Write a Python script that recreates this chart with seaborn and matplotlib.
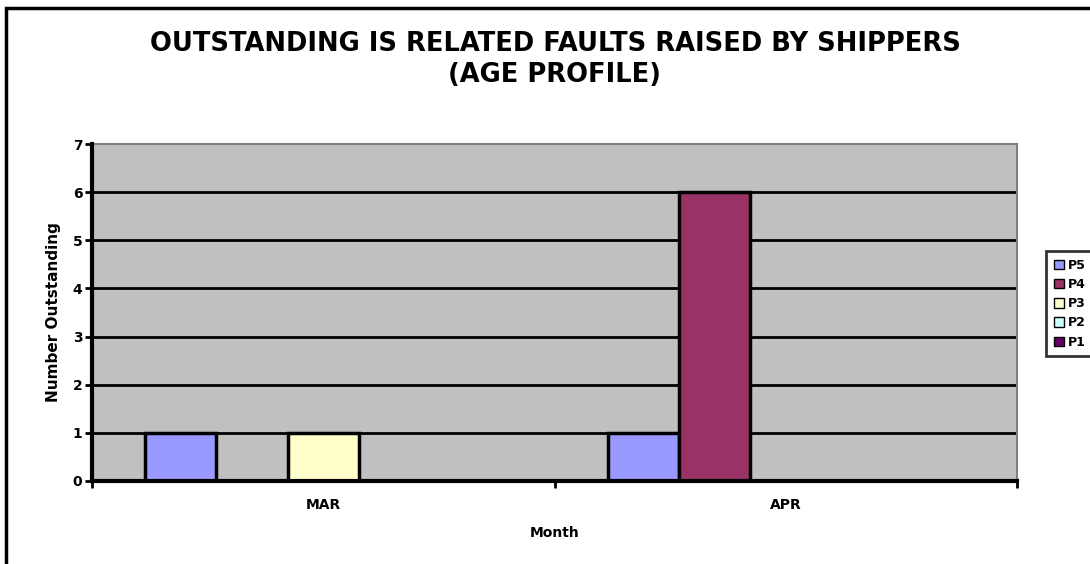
import pandas as pd
import numpy as np
import seaborn as sns
import matplotlib.pyplot as plt
from matplotlib.patches import Patch, Rectangle

# data
months = ["MAR", "APR"]
priorities = ["P5", "P4", "P3", "P2", "P1"]
p5 = [1, 1]
p4 = [0, 6]
p3 = [1, 0]
p2 = [0, 0]
p1 = [0, 0]
colours = ["#9999FF", "#993366", "#FFFFCC", "#CCFFFF", "#660066"]

rows = []
for name, vals in zip(priorities, [p5, p4, p3, p2, p1]):
    for m, v in zip(months, vals):
        rows.append({"Month": m, "Priority": name, "Count": v})
df = pd.DataFrame(rows)

sns.set_style("white")
plt.rcParams["font.family"] = ["DejaVu Sans"]
plt.rcParams["font.weight"] = "bold"
plt.rcParams["text.color"] = "black"
plt.rcParams["xtick.color"] = "black"
plt.rcParams["ytick.color"] = "black"
plt.rcParams["axes.labelcolor"] = "black"

fig = plt.figure(figsize=(10.9, 5.64), dpi=100)
ax = fig.add_axes([92 / 1090, 83 / 564, 925 / 1090, 337 / 564])
ax.set_facecolor("#C0C0C0")

for y in range(1, 7):
    ax.axhline(y, color="black", lw=2, zorder=0.5)

sns.barplot(data=df, x="Month", y="Count", hue="Priority", order=months,
            hue_order=priorities, palette=colours, saturation=1, width=0.77,
            edgecolor="black", linewidth=2.5, legend=False, ax=ax, zorder=2)

ax.set_ylim(0, 7)
ax.set_xlim(-0.5, 1.5)
ax.set_yticks(range(0, 8))
ax.tick_params(axis="y", left=True, direction="out", length=5, width=2,
               labelsize=10, pad=2)
ax.tick_params(axis="x", which="major", bottom=True, length=0, labelsize=10, pad=12)
ax.set_xticks([-0.5, 0.5, 1.5], minor=True)
ax.tick_params(axis="x", which="minor", bottom=True, direction="out", length=5, width=2)
ax.set_xlabel("Month", fontsize=10, fontweight="bold", labelpad=10)
ax.set_ylabel("Number Outstanding", fontsize=11, fontweight="bold", labelpad=8)

for s in ["top", "right"]:
    ax.spines[s].set_color("#808080")
    ax.spines[s].set_linewidth(1.5)
for s in ["left", "bottom"]:
    ax.spines[s].set_color("black")
    ax.spines[s].set_linewidth(3)
    ax.spines[s].set_zorder(3)

fig.suptitle("OUTSTANDING IS RELATED FAULTS RAISED BY SHIPPERS\n(AGE PROFILE)",
             x=555 / 1090, y=1 - 31 / 564, fontsize=18.5, fontweight="bold",
             linespacing=1.25, va="top")

handles = [Patch(facecolor=c, edgecolor="black", lw=1) for c in colours]
leg = fig.legend(handles, priorities, loc="upper left",
                 bbox_to_anchor=(1040 / 1090, 1 - 245 / 564), frameon=True,
                 fancybox=False, fontsize=9, handlelength=0.8, handleheight=0.8,
                 handletextpad=0.3, labelspacing=0.5, borderpad=0.6)
leg.get_frame().set_edgecolor("black")
leg.get_frame().set_linewidth(2)
for t in leg.get_texts():
    t.set_fontweight("bold")

fig.patches.append(Rectangle((6 / 1090, -0.1), 1.2, 1 - 8 / 564 + 0.1,
                             transform=fig.transFigure, fill=False,
                             edgecolor="black", lw=2.5, zorder=0))

fig.savefig("out.png", dpi=100)
